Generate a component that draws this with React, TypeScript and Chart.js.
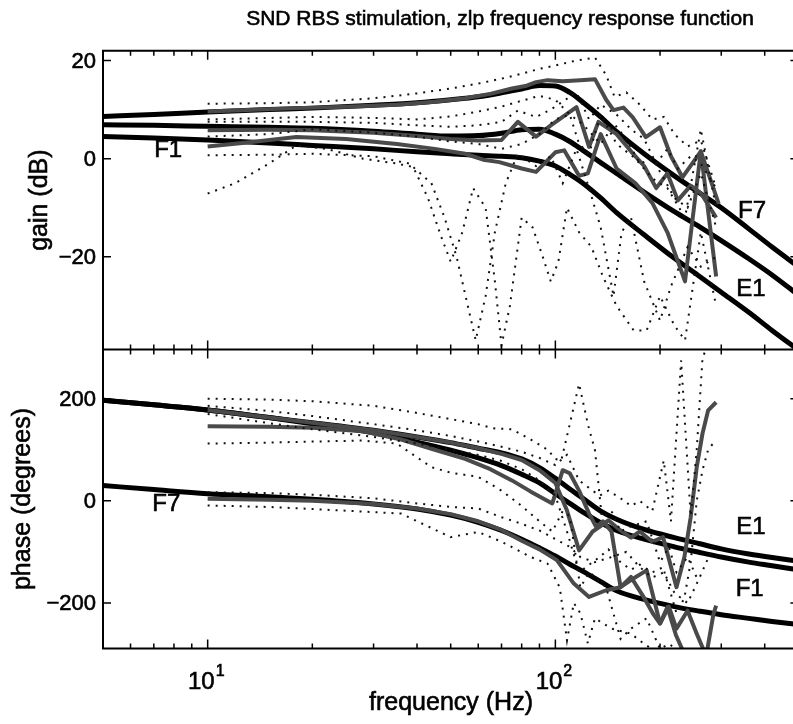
import React, { useEffect, useRef } from 'react';
import { Chart, registerables } from 'chart.js';

Chart.register(...registerables);

// ---------- axis / tick data ----------
const xMin = 5;
const xMax = 500;
const xMajorTicks = [10, 100];
const xMajorExp = ['1', '2'];
const xMinorTicks = [6, 7, 8, 9, 20, 30, 40, 50, 60, 70, 80, 90, 200, 300, 400];
const gainRange = [-38.9, 22.0];
const phaseRange = [-289, 296];
const gainTicks = [20, 0, -20];
const gainTickLabels = ['20', '0', '\u221220'];
const phaseTicks = [200, 0, -200];
const phaseTickLabels = ['200', '0', '\u2212200'];

// ---------- model (smooth fitted) curves ----------
const modelFreq = [5, 7, 10, 15, 20, 30, 40, 50, 60, 70, 80, 90, 100, 110, 120, 135, 150, 180, 220, 260, 300, 360, 420, 500];
const gainModelF7 = [8.6, 9.0, 9.5, 10.0, 10.3, 10.9, 11.4, 12.0, 12.6, 13.4, 14.2, 14.9, 14.8, 13.5, 11.5, 8.5, 5.5, 1.0, -3.5, -7.0, -10.0, -14.3, -18.0, -22.0];
const gainModelE1 = [6.9, 6.8, 6.6, 6.4, 6.2, 5.6, 5.0, 4.6, 4.7, 5.2, 5.9, 6.0, 5.0, 3.5, 1.7, -0.8, -3.0, -6.8, -10.8, -13.9, -16.7, -20.4, -23.7, -27.8];
const gainModelF1 = [4.5, 4.2, 3.8, 3.2, 2.7, 2.0, 1.4, 1.0, 0.7, 0.5, 0.2, -0.5, -1.5, -3.2, -5.0, -8.0, -11.0, -15.5, -20.3, -24.0, -27.2, -31.3, -35.0, -39.0];
const phaseModelE1 = [197, 188, 178, 163, 153, 138, 125, 114, 103, 94, 82, 65, 44, 23, 5, -20, -36, -56, -72, -84, -94, -104, -111, -118];
const phaseModelE1b = [197, 188, 178, 163, 151, 133, 115, 99, 84, 69, 52, 35, 14, -5, -22, -43, -58, -75, -90, -101, -110, -120, -127, -135];
const phaseModelF7 = [30, 22, 14, 8, 3, -6, -16, -28, -42, -58, -75, -92, -108, -124, -138, -158, -176, -193, -207, -216, -223, -230, -236, -242];

// ---------- measured gain (freq, dB) ----------
const gainMeas1 = [[10, 9.6], [13, 9.9], [18, 10.3], [25, 10.6], [35, 11.0], [45, 11.6], [55, 12.3], [65, 13.2], [75, 14.3], [82, 14.8], [88, 15.6], [95, 16.0], [105, 15.8], [118, 16.0], [130, 16.2], [140, 12.0], [147, 9.9], [157, 10.4], [167, 8.4], [182, 4.4], [200, 6.4], [215, 0.5], [232, -3.8], [262, 1.5], [295, -9.2]];
const gainMeas2 = [[10, 5.8], [15, 5.9], [20, 5.8], [30, 5.3], [40, 4.6], [50, 4.0], [60, 3.7], [70, 3.8], [78, 7.5], [88, 4.5], [97, 6.8], [115, 10.5], [125, 2.4], [133, 7.5], [150, 5.0], [165, 1.5], [180, -1.5], [195, -6.0], [210, -3.0], [225, -8.5], [245, -5.5], [262, -7.0], [290, -12.0]];
const gainMeas3 = [[10, 2.5], [13, 3.3], [18, 4.4], [25, 4.0], [35, 3.0], [45, 2.0], [55, 1.0], [62, -0.2], [69, -0.7], [80, -2.0], [88, -2.7], [100, 1.3], [106, 1.7], [117, -3.5], [124, -3.0], [135, 5.0], [150, -2.0], [170, -5.0], [190, -9.0], [210, -15.0], [236, -25.0], [262, 1.5], [290, -24.0]];

// ---------- gain confidence bounds (dotted) ----------
const gainUp1 = [[10, 11.2], [15, 11.3], [20, 11.5], [30, 12.3], [40, 13.3], [50, 14.3], [60, 15.3], [70, 16.3], [80, 17.3], [90, 18.3], [100, 19.0], [115, 20.0], [130, 20.6], [140, 17.0], [148, 12.6], [160, 13.5], [175, 11.0], [190, 8.0], [205, 8.5], [220, 5.0], [240, 2.5], [262, 3.7], [290, -6.0]];
const gainLo1 = [[10, 8.0], [15, 8.3], [20, 8.5], [30, 8.3], [40, 8.0], [50, 8.6], [60, 9.6], [70, 10.6], [80, 11.8], [90, 12.8], [100, 12.0], [110, 9.0], [120, 7.0], [135, 3.0], [148, 7.0], [160, 4.0], [175, -1.0], [190, 0.0], [205, -4.0], [220, -8.0], [240, -10.0], [262, -3.0], [290, -14.0]];
const gainUp2 = [[10, 7.5], [20, 7.5], [30, 7.3], [40, 6.8], [50, 6.5], [60, 6.8], [70, 7.5], [78, 9.8], [88, 8.5], [97, 10.0], [115, 13.5], [125, 8.0], [135, 11.0], [150, 9.0], [165, 6.0], [180, 4.0], [195, -1.0], [210, 2.0], [225, -2.0], [245, 0.5], [262, -1.0], [290, -6.0]];
const gainLo2 = [[10, 0.7], [15, 0.8], [20, 1.0], [30, 0.5], [38, -1.0], [44, -5.0], [48, -12.0], [52, -20.0], [56, -30.0], [59, -37.0], [63, -28.0], [67, -15.0], [72, -5.0], [78, 1.0], [88, -1.5], [97, 0.5], [105, -5.0], [115, 2.0], [125, -6.0], [135, -14.0], [147, -28.0], [155, -15.0], [165, -12.0], [180, -25.0], [200, -33.0], [215, -26.0], [240, -18.0], [262, -22.0], [290, -20.0]];
const gainUp3 = [[10, 4.5], [15, 5.0], [20, 6.0], [30, 5.3], [40, 4.5], [50, 3.5], [60, 3.0], [70, 2.0], [80, 3.0], [90, 5.0], [100, 8.0], [110, 9.0], [117, 3.0], [125, 1.0], [135, 9.0], [150, 3.0], [170, 0.0], [190, -4.0], [210, -6.0], [236, -12.0], [262, 6.0], [290, -10.0]];
const gainLo3 = [[10, -7.1], [12, -5.0], [15, -1.0], [18, 2.7], [22, 2.0], [28, 0.0], [35, -1.0], [39, -1.7], [43, -8.0], [47, -16.0], [50, -21.0], [54, -15.0], [58, -6.0], [63, -10.0], [67, -25.0], [70, -38.0], [74, -30.0], [80, -12.0], [86, -14.0], [92, -20.0], [97, -25.0], [102, -21.0], [108, -10.0], [117, -15.0], [127, -18.0], [137, -24.0], [150, -30.0], [168, -35.0], [183, -35.0], [200, -28.0], [220, -34.0], [236, -37.0], [262, -15.0], [290, -30.0]];

// ---------- measured phase (freq, degrees) ----------
const phaseMeas1 = [[10, 178], [15, 163], [20, 153], [30, 138], [40, 125], [50, 114], [60, 103], [70, 92], [80, 80], [90, 60], [100, 35], [108, -19], [117, -97], [128, -60], [134, -51], [142, -38], [154, -58], [165, -72], [175, -60], [190, -80], [204, -71], [223, -169], [235, -110], [245, -32], [255, 66], [265, 132], [275, 177], [290, 193]];
const phaseMeas2 = [[10, 146], [15, 145], [20, 143], [28, 136], [36, 120], [45, 100], [55, 82], [65, 62], [75, 40], [85, 18], [98, -5], [105, 60], [110, 54], [117, 20], [125, -25], [131, -51], [137, -40], [145, -60], [154, -169], [165, -155], [183, -136], [200, -240], [212, -207], [223, -250], [240, -215], [255, -260], [270, -300]];
const phaseMeas3 = [[10, 4], [15, 2], [20, 0], [30, -6], [40, -15], [50, -26], [60, -40], [70, -57], [80, -78], [90, -95], [101, -116], [113, -162], [125, -188], [140, -175], [154, -169], [165, -149], [180, -190], [191, -221], [200, -240], [210, -208], [222, -262], [235, -300], [250, -320], [272, -300], [285, -221], [290, -205]];

// ---------- phase confidence bounds (dotted) ----------
const phaseUp1 = [[10, 186], [15, 176], [20, 166], [30, 150], [40, 138], [50, 127], [60, 116], [70, 106], [80, 96], [90, 84], [100, 70], [108, 90], [117, 40], [128, 20], [134, 10], [142, 20], [154, 5], [165, -10], [175, 0], [190, -20], [205, 79], [215, -40], [230, 275], [245, -30], [255, 100], [265, 280], [280, 320], [290, 300]];
const phaseLo1 = [[10, 170], [15, 152], [20, 140], [30, 125], [40, 112], [50, 100], [60, 90], [70, 78], [80, 62], [90, 40], [100, 10], [108, -60], [117, -140], [128, -120], [134, -110], [142, -95], [154, -120], [165, -135], [175, -125], [190, -140], [204, -130], [223, -220], [235, -190], [245, -120], [255, 0], [265, 60], [275, 100], [290, 120]];
const phaseUp2 = [[10, 200], [15, 198], [20, 195], [30, 186], [40, 172], [50, 160], [60, 150], [66, 142], [75, 140], [85, 120], [95, 100], [100, 82], [104, 79], [110, 150], [117, 229], [124, 150], [130, 99], [136, -32], [145, -20], [154, -60], [165, -50], [183, -40], [200, -120], [212, -90], [223, -140], [240, -110], [255, -150]];
const phaseLo2 = [[10, 112], [15, 114], [20, 116], [28, 118], [35, 112], [44, 66], [50, 55], [60, 47], [70, 20], [80, -10], [90, -40], [98, -60], [105, -20], [110, -30], [118, -170], [125, -140], [131, -150], [140, -170], [154, -270], [165, -250], [183, -230], [200, -290], [212, -280], [223, -290]];
const phaseUp3 = [[10, 17], [15, 15], [20, 12], [30, 5], [40, -5], [50, -12], [60, -15], [70, -32], [80, -45], [90, -58], [100, -75], [110, -90], [118, -110], [130, -120], [145, -110], [160, -100], [175, -130], [190, -150], [205, -140], [220, -180], [240, -200], [260, -150], [280, -100], [290, -80]];
const phaseLo3 = [[10, -9], [15, -12], [20, -16], [30, -22], [36, -25], [43, -50], [50, -71], [60, -61], [70, -80], [85, -110], [95, -123], [103, -170], [108, -273], [113, -200], [118, -220], [124, -279], [130, -230], [145, -250], [165, -260], [180, -280], [200, -300], [290, -300]];

// ---------- curve labels ----------
const gainLabelText = ['F1', 'F7', 'E1'];
const gainLabelFreq = [7.7, 368, 365];
const gainLabelVal = [1.7, -10.8, -26.7];
const phaseLabelText = ['F7', 'E1', 'F1'];
const phaseLabelFreq = [7.6, 365, 362];
const phaseLabelVal = [-7, -52, -173];

const TITLE = 'SND RBS stimulation, zlp frequency response function';
const FONT = '"Liberation Sans", Arial, Helvetica, sans-serif';

const pairsXY = (p: number[][]) => p.map(([x, y]) => ({ x, y }));
const modelXY = (v: number[]) => modelFreq.map((f, i) => ({ x: f, y: v[i] }));

const dotted = { borderColor: '#111', borderWidth: 2, borderDash: [2, 6], pointRadius: 0, tension: 0, fill: false };
const measured = { borderColor: '#4a4a4a', borderWidth: 4, pointRadius: 0, tension: 0, fill: false, borderJoinStyle: 'round' as const };
const model = { borderColor: '#000', borderWidth: 5, pointRadius: 0, cubicInterpolationMode: 'monotone' as const, fill: false };

const panelClip = {
  id: 'panelClip',
  beforeDatasetDraw(chart: any, args: any) {
    const ys = args.meta.yScale;
    const a = chart.chartArea;
    const ctx = chart.ctx;
    ctx.save();
    ctx.beginPath();
    ctx.rect(a.left, ys.top, a.right - a.left, ys.bottom - ys.top);
    ctx.clip();
  },
  afterDatasetDraw(chart: any) {
    chart.ctx.restore();
  },
};

const txt = (ctx: CanvasRenderingContext2D, s: string, x: number, y: number) => {
  ctx.fillText(s, x, y);
  ctx.strokeText(s, x, y);
};

const decor = {
  id: 'decor',
  afterDraw(chart: any) {
    const ctx = chart.ctx as CanvasRenderingContext2D;
    const x = chart.scales.x;
    const yG = chart.scales.yG;
    const yP = chart.scales.yP;
    const L = chart.chartArea.left;
    const R = chart.chartArea.right;
    const T = yG.top;
    const M = yG.bottom;
    const B = yP.bottom;
    ctx.save();
    ctx.strokeStyle = '#000';
    ctx.lineWidth = 2;
    ctx.beginPath();
    ctx.moveTo(L, T); ctx.lineTo(R, T); ctx.lineTo(R, B); ctx.lineTo(L, B); ctx.closePath();
    ctx.moveTo(L, M); ctx.lineTo(R, M);
    ctx.stroke();

    ctx.lineWidth = 1.5;
    ctx.beginPath();
    const xt = (f: number, len: number) => {
      const px = x.getPixelForValue(f);
      ctx.moveTo(px, T); ctx.lineTo(px, T + len);
      ctx.moveTo(px, M - len); ctx.lineTo(px, M + len);
      ctx.moveTo(px, B); ctx.lineTo(px, B - len);
    };
    xMajorTicks.forEach((f) => xt(f, 9));
    xMinorTicks.forEach((f) => xt(f, 5));
    const yt = (py: number) => {
      ctx.moveTo(L, py); ctx.lineTo(L + 8, py);
      ctx.moveTo(R, py); ctx.lineTo(R - 8, py);
    };
    gainTicks.forEach((v) => yt(yG.getPixelForValue(v)));
    phaseTicks.forEach((v) => yt(yP.getPixelForValue(v)));
    ctx.stroke();

    ctx.fillStyle = '#000';
    ctx.lineWidth = 0.6;
    // y tick labels
    ctx.font = `22px ${FONT}`;
    ctx.textAlign = 'right';
    ctx.textBaseline = 'middle';
    gainTicks.forEach((v, i) => txt(ctx, gainTickLabels[i], L - 7, yG.getPixelForValue(v) + 1));
    phaseTicks.forEach((v, i) => txt(ctx, phaseTickLabels[i], L - 7, yP.getPixelForValue(v) + 1));
    // x tick labels (10^n)
    ctx.textBaseline = 'alphabetic';
    xMajorTicks.forEach((f, i) => {
      const px = x.getPixelForValue(f);
      ctx.font = `24px ${FONT}`;
      ctx.textAlign = 'right';
      txt(ctx, '10', px + 7, B + 40);
      ctx.font = `16px ${FONT}`;
      ctx.textAlign = 'left';
      txt(ctx, xMajorExp[i], px + 8, B + 27);
    });
    // axis titles
    ctx.font = `25px ${FONT}`;
    ctx.textAlign = 'center';
    ctx.textBaseline = 'middle';
    txt(ctx, 'frequency (Hz)', 451, B + 55);
    ctx.save();
    ctx.translate(40, (T + M) / 2);
    ctx.rotate(-Math.PI / 2);
    txt(ctx, 'gain (dB)', 0, 0);
    ctx.restore();
    ctx.save();
    ctx.translate(23, (M + B) / 2);
    ctx.rotate(-Math.PI / 2);
    txt(ctx, 'phase (degrees)', 0, 0);
    ctx.restore();
    // title
    ctx.font = `21px ${FONT}`;
    txt(ctx, TITLE, 500, 19);
    // curve labels
    ctx.font = `24px ${FONT}`;
    gainLabelText.forEach((t, i) => txt(ctx, t, x.getPixelForValue(gainLabelFreq[i]), yG.getPixelForValue(gainLabelVal[i])));
    phaseLabelText.forEach((t, i) => txt(ctx, t, x.getPixelForValue(phaseLabelFreq[i]), yP.getPixelForValue(phaseLabelVal[i])));
    ctx.restore();
  },
};

export default function App() {
  const ref = useRef<HTMLCanvasElement>(null);
  useEffect(() => {
    const g = 'yG';
    const p = 'yP';
    const datasets: any[] = [
      ...[gainUp1, gainLo1, gainUp2, gainLo2, gainUp3, gainLo3].map((d) => ({ ...dotted, data: pairsXY(d), yAxisID: g })),
      ...[phaseUp1, phaseLo1, phaseUp2, phaseLo2, phaseUp3, phaseLo3].map((d) => ({ ...dotted, data: pairsXY(d), yAxisID: p })),
      ...[gainMeas1, gainMeas2, gainMeas3].map((d) => ({ ...measured, data: pairsXY(d), yAxisID: g })),
      ...[phaseMeas1, phaseMeas2, phaseMeas3].map((d) => ({ ...measured, data: pairsXY(d), yAxisID: p })),
      ...[gainModelF7, gainModelE1, gainModelF1].map((d) => ({ ...model, data: modelXY(d), yAxisID: g })),
      ...[phaseModelE1, phaseModelE1b, phaseModelF7].map((d) => ({ ...model, data: modelXY(d), yAxisID: p })),
    ];
    const hiddenAxis = {
      ticks: { display: false },
      grid: { display: false },
      border: { display: false },
      title: { display: false },
    };
    const chart = new Chart(ref.current as HTMLCanvasElement, {
      type: 'line',
      data: { datasets },
      options: {
        responsive: false,
        animation: false,
        devicePixelRatio: 1,
        events: [],
        layout: { padding: { top: 50.7, right: 1.6, left: 0, bottom: 0 } },
        plugins: { legend: { display: false }, tooltip: { enabled: false }, title: { display: false } },
        scales: {
          x: {
            type: 'logarithmic', min: xMin, max: xMax, bounds: 'data', ...hiddenAxis,
            afterFit: (s: any) => { s.height = 75.5; },
          },
          yP: {
            type: 'linear', position: 'left', stack: 'panels', stackWeight: 1,
            min: phaseRange[0], max: phaseRange[1], bounds: 'data', ...hiddenAxis,
            afterFit: (s: any) => { s.width = 103; },
          },
          yG: {
            type: 'linear', position: 'left', stack: 'panels', stackWeight: 1,
            min: gainRange[0], max: gainRange[1], bounds: 'data', ...hiddenAxis,
            afterFit: (s: any) => { s.width = 103; },
          },
        } as any,
      },
      plugins: [panelClip, decor],
    });
    return () => chart.destroy();
  }, []);
  return (
    <div style={{ position: 'absolute', left: 0, top: 0, width: 793, height: 724, overflow: 'hidden', background: '#fff' }}>
      <canvas ref={ref} width={800} height={724} style={{ display: 'block', width: 800, height: 724 }} />
    </div>
  );
}
